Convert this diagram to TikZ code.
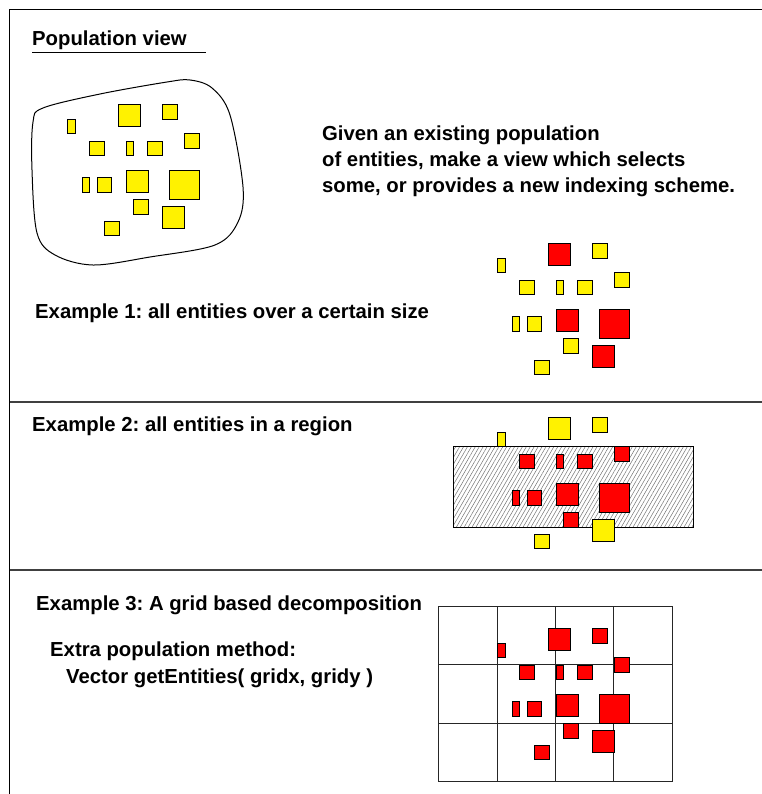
\documentclass[tikz,border=0pt]{standalone}
\usepackage{fontspec}
\setmainfont{Liberation Sans}
\usetikzlibrary{patterns.meta}
\frenchspacing
\begin{document}
\begin{tikzpicture}[x=1bp,y=-1bp,
  lbl/.style={anchor=base west, inner sep=0pt, font=\bfseries\fontsize{20.3bp}{24bp}\selectfont},
  ent/.style={draw=black, line width=0.9bp},
  framel/.style={draw=black, line width=1.3bp},
  sepl/.style={draw=black!75, line width=1.3bp},
  gridl/.style={draw=black!85, line width=1bp}]
\useasboundingbox (0,0) rectangle (762,794);
% frame and separators
\draw[framel] (9.5,800) -- (9.5,9.5) -- (770,9.5);
\draw[sepl] (9.5,402) -- (770,402);
\draw[sepl] (9.5,570) -- (770,570);
% titles
\node[lbl] (title) at (32,45.5) {Population view};
\draw[line width=1bp] (32,53) -- (206,53);
\node[lbl] (given1) at (322,140) {Given an existing population};
\node[lbl] (given2) at (322,166) {of entities, make a view which selects};
\node[lbl] (given3) at (322,192) {some, or provides a new indexing scheme.};
\node[lbl] (ex1) at (35,318) {Example 1: all entities over a certain size};
\node[lbl] (ex2) at (32,431.5) {Example 2: all entities in a region};
\node[lbl] (ex3) at (36,610.5) {Example 3: A grid based decomposition};
\node[lbl] (extra) at (50,656.5) {Extra population method:};
\node[lbl] (vec) at (66,683.5) {Vector getEntities( gridx, gridy )};
% blob
\draw[line width=1bp] plot[smooth cycle, tension=0.55] coordinates {
 (43,108) (100,94) (167,82) (190,80) (212,88) (230,115) (243,187) (238,222)
 (215,245) (150,257) (93,265) (55,255) (37,233) (32,170) (33,122)};
% panel 1 entities
\foreach \xa/\ya/\xb/\yb/\c in {
 118/104/140/126/yellow, 162/104/177/119/yellow, 67/119/75/133/yellow,
 89/141/104/155/yellow, 126/141/133/155/yellow, 147/141/162/155/yellow,
 184/133/199/148/yellow, 82/177/89/192/yellow, 97/177/111/192/yellow,
 126/170/148/192/yellow, 169/170/199/199/yellow, 133/199/148/214/yellow,
 162/206/184/228/yellow, 104/221/119/235/yellow}
 {\draw[ent, fill=\c] (\xa,\ya) rectangle (\xb,\yb);}
% panel 2 entities
\begin{scope}[shift={(430,139)}]
\foreach \xa/\ya/\xb/\yb/\c in {
 118/104/140/126/red, 162/104/177/119/yellow, 67/119/75/133/yellow,
 89/141/104/155/yellow, 126/141/133/155/yellow, 147/141/162/155/yellow,
 184/133/199/148/yellow, 82/177/89/192/yellow, 97/177/111/192/yellow,
 126/170/148/192/red, 169/170/199/199/red, 133/199/148/214/yellow,
 162/206/184/228/red, 104/221/119/235/yellow}
 {\draw[ent, fill=\c] (\xa,\ya) rectangle (\xb,\yb);}
\end{scope}
% panel 3: region
\path[pattern={Lines[angle=60,distance=3.4bp,line width=0.5bp]}, pattern color=black!55]
  (453,446) rectangle (693,527);
\draw[line width=1bp] (453,446) rectangle (693,527);
\begin{scope}[shift={(430,313)}]
\foreach \xa/\ya/\xb/\yb/\c in {
 118/104/140/126/yellow, 162/104/177/119/yellow, 67/119/75/133/yellow,
 89/141/104/155/red, 126/141/133/155/red, 147/141/162/155/red,
 184/133/199/148/red, 82/177/89/192/red, 97/177/111/192/red,
 126/170/148/192/red, 169/170/199/199/red, 133/199/148/214/red,
 162/206/184/228/yellow, 104/221/119/235/yellow}
 {\draw[ent, fill=\c] (\xa,\ya) rectangle (\xb,\yb);}
\end{scope}
% panel 4: grid
\draw[gridl] (438,606) rectangle (672,781);
\draw[gridl] (497,606) -- (497,781);
\draw[gridl] (555,606) -- (555,781);
\draw[gridl] (613,606) -- (613,781);
\draw[gridl] (438,664) -- (672,664);
\draw[gridl] (438,723) -- (672,723);
\begin{scope}[shift={(430,524)}]
\foreach \xa/\ya/\xb/\yb in {
 118/104/140/126, 162/104/177/119, 67/119/75/133,
 89/141/104/155, 126/141/133/155, 147/141/162/155,
 184/133/199/148, 82/177/89/192, 97/177/111/192,
 126/170/148/192, 169/170/199/199, 133/199/148/214,
 162/206/184/228, 104/221/119/235}
 {\draw[ent, fill=red] (\xa,\ya) rectangle (\xb,\yb);}
\end{scope}
\end{tikzpicture}
\end{document}
